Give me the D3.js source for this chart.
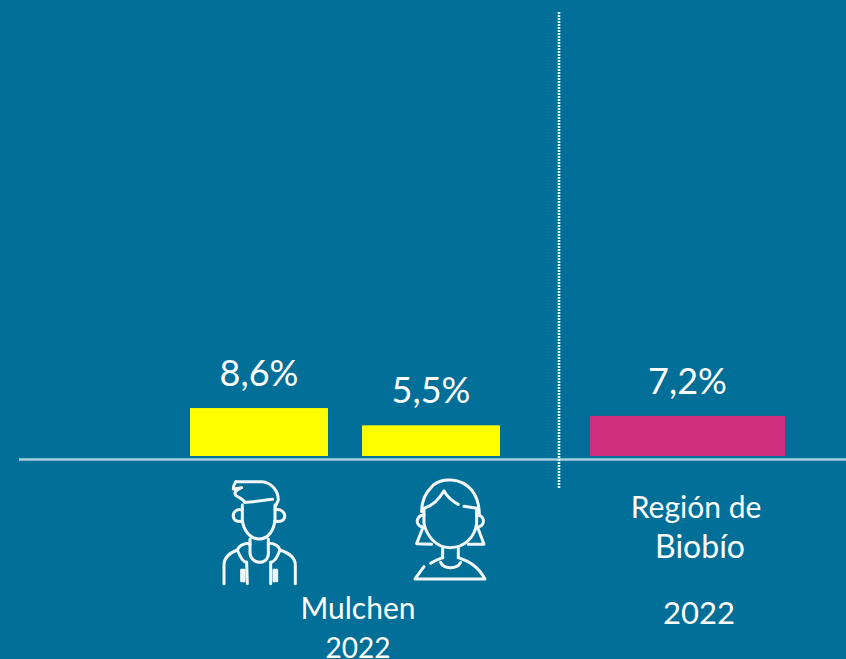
<!DOCTYPE html>
<html>
<head>
  <meta charset="utf-8">
  <title>Mulchen 2022</title>
  <script src="https://cdn.jsdelivr.net/npm/d3@7"></script>
  <style>
    html, body { margin: 0; padding: 0; background: #026f98; overflow: hidden; }
    svg { display: block; }
    text { font-family: Lato, "Open Sans", sans-serif; fill: #fff; }
  </style>
</head>
<body>
  <svg width="846" height="659">
    <defs>
      <filter id="soft"><feGaussianBlur stdDeviation="0.5"></feGaussianBlur></filter>
    </defs>
  </svg>

  <script>
    const groupCategories = ["Hombres", "Mujeres"];
    const groupValues = [8.6, 5.5];
    const groupLabels = ["8,6%", "5,5%"];
    const regionCategories = ["Región de Biobío"];
    const regionValues = [7.2];
    const regionLabels = ["7,2%"];

    const svg = d3.select("svg");

    const yScale = d3.scaleLinear().domain([0, 80]).range([456, 10]);

    const xGroup = d3.scaleBand()
        .domain(groupCategories)
        .range([190, 500])
        .paddingInner(0.198);

    const xRegion = d3.scaleBand()
        .domain(regionCategories)
        .range([590, 785]);

    function drawBars(cats, values, labels, x, color, labelGap) {
        svg.selectAll(null)
            .data(cats)
            .enter()
            .append("rect")
            .attr("x", d => x(d))
            .attr("width", x.bandwidth())
            .attr("y", (d, i) => yScale(values[i]))
            .attr("height", (d, i) => yScale(0) - yScale(values[i]))
            .attr("fill", color);

        svg.selectAll(null)
            .data(cats)
            .enter()
            .append("text")
            .attr("x", d => x(d) + x.bandwidth() / 2)
            .attr("y", (d, i) => yScale(values[i]) - labelGap)
            .attr("text-anchor", "middle")
            .attr("font-size", 36)
            .text((d, i) => labels[i]);
    }

    drawBars(groupCategories, groupValues, groupLabels, xGroup, "#ffff00", 22);
    drawBars(regionCategories, regionValues, regionLabels, xRegion, "#cc2f7b", 22);

    // baseline
    svg.append("line")
        .attr("x1", 19).attr("x2", 846)
        .attr("y1", 459.5).attr("y2", 459.5)
        .attr("stroke", "#a9cfdc")
        .attr("stroke-width", 2.6);

    // separator
    svg.append("line")
        .attr("x1", 559).attr("x2", 559)
        .attr("y1", 12).attr("y2", 488)
        .attr("stroke", "#e6f1f5")
        .attr("stroke-width", 2.6)
        .attr("stroke-dasharray", "2 1");

    // icons, drawn in the coordinates of a 3x crop
    const icons = svg.append("g")
        .attr("transform", "translate(200,465) scale(0.3333)")
        .attr("filter", "url(#soft)")
        .attr("fill", "none")
        .attr("stroke", "#f2f8fa")
        .attr("stroke-width", 9)
        .attr("stroke-linecap", "round")
        .attr("stroke-linejoin", "round");

    const manPaths = [
        "M108,50 L185,50 C215,52 235,78 235,105 L226,125",
        "M108,50 C100,60 100,65 100,72 L125,68 C108,75 100,82 108,92 C118,100 130,100 134,112",
        "M134,112 C160,112 190,105 218,103",
        "M127,120 L127,165 C130,195 150,222 178,222 C205,222 222,195 225,165 L225,120",
        "M127,135 C110,130 98,142 100,155 C102,168 115,172 127,168",
        "M225,135 C242,130 256,142 254,155 C252,168 240,172 225,168",
        "M150,222 L150,240 M205,222 L205,240",
        "M150,235 C130,235 118,240 112,255 C125,285 130,290 140,292",
        "M205,235 C225,235 235,240 240,255 C228,285 222,290 212,292",
        "M150,258 C148,280 165,292 178,292 C195,292 208,280 205,258 M150,240 L150,258 M205,240 L205,258",
        "M112,255 C85,265 72,280 72,300 L72,356",
        "M240,255 C270,265 286,280 286,300 L286,356",
        "M140,292 L142,356 M212,292 L212,356",
        "M125,315 L125,348 M132,315 L132,348 M222,315 L222,348 M230,315 L230,348"
    ];
    const womanPaths = [
        "M700,60 C725,40 780,35 815,75 C835,100 838,125 838,150",
        "M696,65 C675,85 665,110 665,140",
        "M732,78 C715,105 700,120 672,130 L672,175 C680,215 710,248 750,248 C795,248 825,215 830,175 L830,130 L792,124",
        "M732,78 C742,95 755,108 775,118",
        "M672,150 C655,150 650,165 652,172 C655,182 662,186 672,186",
        "M830,150 C848,150 852,165 850,172 C848,182 840,186 830,186",
        "M668,190 L650,236 L695,238",
        "M834,190 L852,238 L805,238",
        "M728,248 L728,278 M775,248 L775,278",
        "M728,278 C712,284 700,290 692,295 M672,305 L645,342 L855,342 C835,305 810,290 775,278",
        "M722,292 C730,312 770,315 782,292"
    ];

    icons.selectAll("path.icon")
        .data(manPaths.concat(womanPaths))
        .enter()
        .append("path")
        .attr("class", "icon")
        .attr("d", d => d);

    // category labels
    const labelText = [
        { t: "Mulchen", x: 358, y: 619, s: 30 },
        { t: "2022", x: 358, y: 658, s: 28 },
        { t: "Región de", x: 696, y: 518, s: 30 },
        { t: "Biobío", x: 700, y: 558, s: 32 },
        { t: "2022", x: 699, y: 624, s: 31 }
    ];
    svg.selectAll("text.lab")
        .data(labelText)
        .enter()
        .append("text")
        .attr("class", "lab")
        .attr("x", d => d.x)
        .attr("y", d => d.y)
        .attr("text-anchor", "middle")
        .attr("font-size", d => d.s)
        .text(d => d.t);
  </script>
</body>
</html>
